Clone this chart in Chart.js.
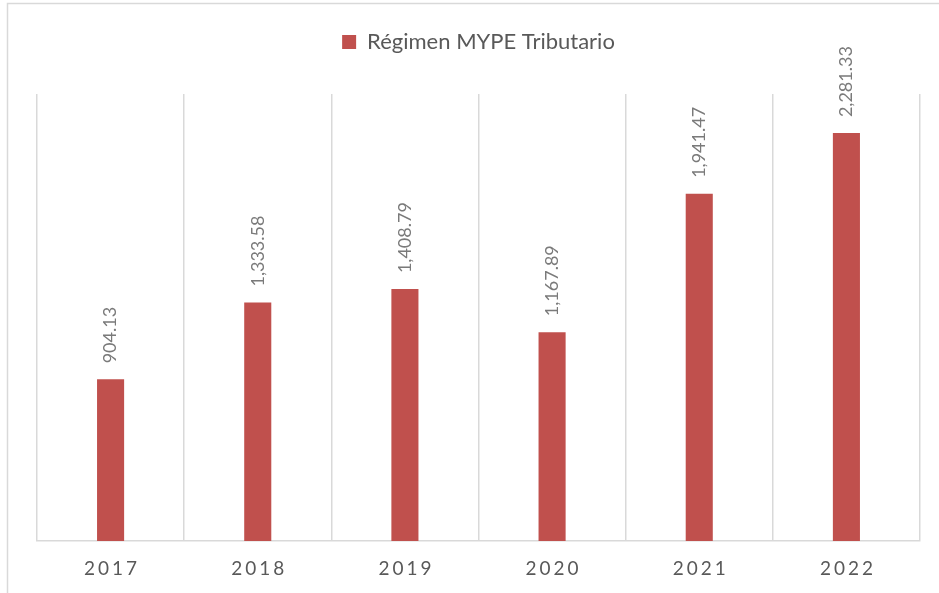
<!DOCTYPE html>
<html>
<head>
<meta charset="utf-8">
<script src="https://cdn.jsdelivr.net/npm/chart.js@4"></script>
<style>
  html, body { margin: 0; padding: 0; background: #fff; }
  #wrap { width: 939px; height: 593px; position: relative; }
</style>
</head>
<body>
<div id="wrap"><canvas id="regimenChart"></canvas></div>
<script>
// Data
const years = ['2017', '2018', '2019', '2020', '2021', '2022'];
const mypeValues = [904.13, 1333.58, 1408.79, 1167.89, 1941.47, 2281.33];
const seriesName = 'Régimen MYPE Tributario';
const yMax = 2500;

const barColor = '#C0504D';
const gridColor = '#d9d9d9';
const fontFamily = 'Lato, "Open Sans", sans-serif';

// light frame round the chart
const framePlugin = {
    id: 'frame',
    beforeDraw(chart) {
        const ctx = chart.ctx;
        ctx.save();
        ctx.strokeStyle = gridColor;
        ctx.lineWidth = 1.5;
        ctx.strokeRect(7.5, 3.5, 1000, 1000);
        ctx.restore();
    }
};

// extra room under the legend
const legendGap = {
    id: 'legendGap',
    beforeInit(chart) {
        const fit = chart.legend.fit;
        chart.legend.fit = function () {
            fit.call(this);
            this.height += 31;
        };
    }
};

// rotated value labels above each bar
const valueLabels = {
    id: 'valueLabels',
    afterDatasetsDraw(chart) {
        const ctx = chart.ctx;
        const meta = chart.getDatasetMeta(0);
        ctx.save();
        ctx.fillStyle = '#7a7a7a';
        ctx.font = '18px ' + fontFamily;
        ctx.textAlign = 'left';
        ctx.textBaseline = 'middle';
        meta.data.forEach((bar, i) => {
            const txt = mypeValues[i].toLocaleString('en-US', { minimumFractionDigits: 2, maximumFractionDigits: 2 });
            ctx.save();
            ctx.translate(bar.x, bar.y - 16);
            ctx.rotate(-Math.PI / 2);
            ctx.fillText(txt, 0, 0);
            ctx.restore();
        });
        ctx.restore();
    }
};

// spaced-out year labels under the axis
const yearLabels = {
    id: 'yearLabels',
    afterDraw(chart) {
        const ctx = chart.ctx;
        const xs = chart.scales.x;
        const spacing = 3;
        ctx.save();
        ctx.fillStyle = '#595959';
        ctx.font = '19px ' + fontFamily;
        ctx.letterSpacing = spacing + 'px';
        ctx.textAlign = 'center';
        ctx.textBaseline = 'middle';
        years.forEach((y, i) => {
            ctx.fillText(y, xs.getPixelForValue(i) + spacing / 2, chart.chartArea.bottom + 28);
        });
        ctx.restore();
    }
};

const ctx = document.getElementById('regimenChart').getContext('2d');
new Chart(ctx, {
    type: 'bar',
    data: {
        labels: years,
        datasets: [{
            label: seriesName,
            data: mypeValues,
            backgroundColor: barColor,
            borderWidth: 0,
            categoryPercentage: 1,
            barPercentage: 0.184
        }]
    },
    options: {
        responsive: true,
        maintainAspectRatio: false,
        animation: false,
        layout: {
            padding: { left: 37, right: 19, top: 21, bottom: 52 }
        },
        scales: {
            x: {
                grid: {
                    color: gridColor,
                    lineWidth: 1.5,
                    offset: true,
                    drawTicks: false
                },
                border: { color: gridColor, width: 1.5 },
                ticks: { display: false }
            },
            y: {
                display: false,
                beginAtZero: true,
                min: 0,
                max: yMax
            }
        },
        plugins: {
            legend: {
                display: true,
                position: 'top',
                labels: {
                    boxWidth: 14,
                    boxHeight: 14,
                    color: '#595959',
                    font: { family: fontFamily, size: 22 },
                    padding: 10
                }
            },
            tooltip: { enabled: false }
        }
    },
    plugins: [framePlugin, legendGap, valueLabels, yearLabels]
});
</script>
</body>
</html>
